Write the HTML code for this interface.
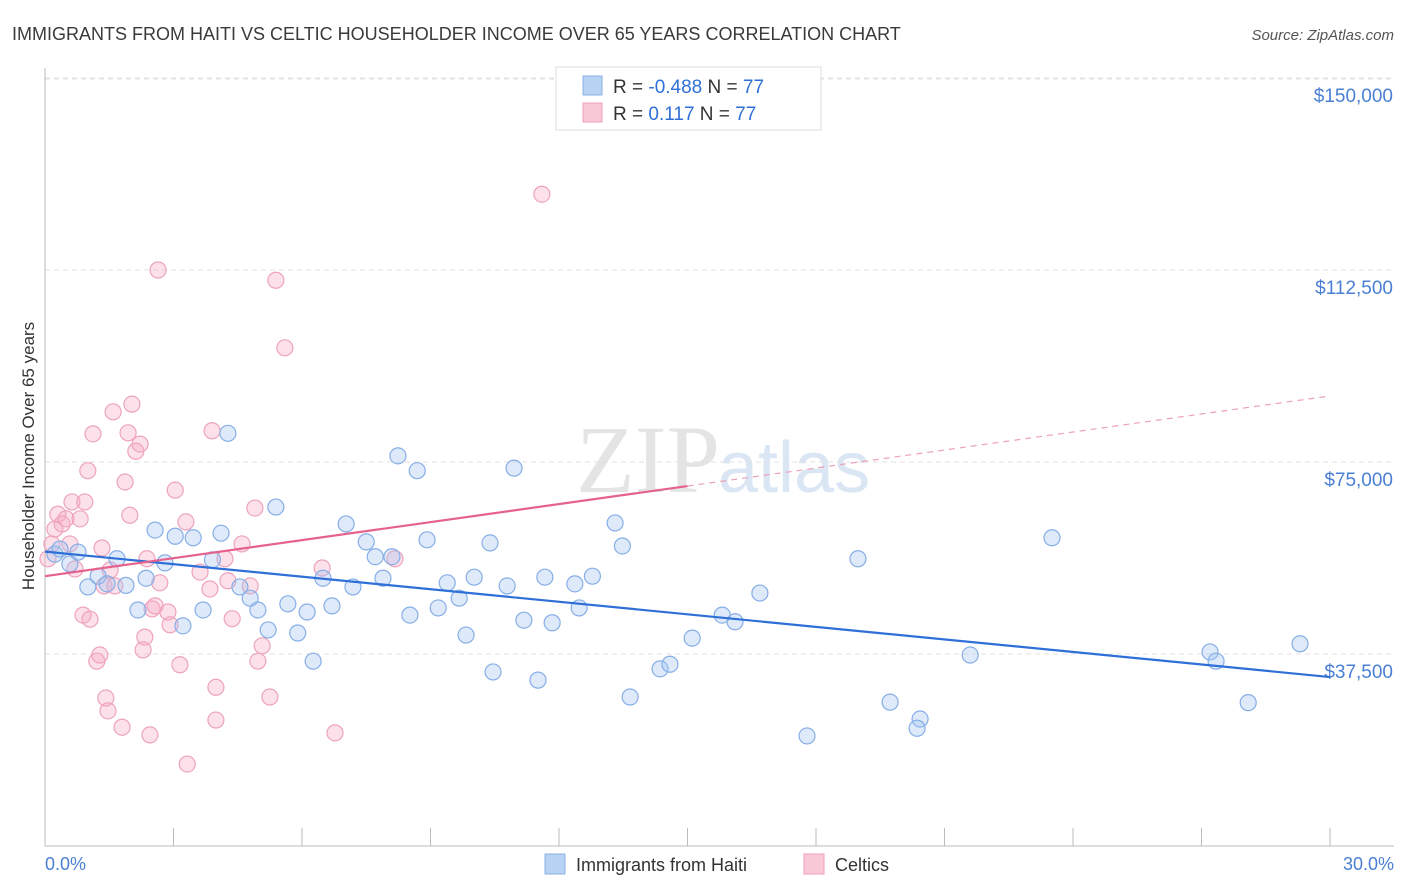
<!DOCTYPE html>
<html><head><meta charset="utf-8"><style>
body{margin:0;background:#fff;font-family:"Liberation Sans",sans-serif}
svg{display:block}
</style></head><body>
<svg width="1406" height="892" id="chart">
<text x="12" y="40" font-size="18" fill="#3a3a3a">IMMIGRANTS FROM HAITI VS CELTIC HOUSEHOLDER INCOME OVER 65 YEARS CORRELATION CHART</text>
<text x="1394" y="40" font-size="15" fill="#555" font-style="italic" text-anchor="end">Source: ZipAtlas.com</text>
<text x="720" y="492" font-size="96" fill="#e4e4e4" text-anchor="end" font-family="Liberation Serif,serif">ZIP</text>
<text x="718" y="492" font-size="72" fill="#dbe6f5">atlas</text>
<g id="grid"></g>
<g id="axes"></g>
<g id="marks"></g>
<text transform="translate(34,456) rotate(-90)" font-size="17" fill="#333" text-anchor="middle">Householder Income Over 65 years</text>
<text x="45" y="870" font-size="18" fill="#4a7fd4">0.0%</text>
<text x="1394" y="870" font-size="18" fill="#4a7fd4" text-anchor="end">30.0%</text>
<g>
<rect x="556" y="67" width="265" height="63" fill="#fff" stroke="#ddd"/>
<rect x="583" y="76" width="19" height="19" fill="#b9d3f5" stroke="#8ab0e6"/>
<rect x="583" y="103" width="19" height="19" fill="#f9c8d6" stroke="#efa0b8"/>
<text x="613" y="93" font-size="19" fill="#333">R = <tspan fill="#2f6fd6">-0.488</tspan>   N = <tspan fill="#2f6fd6">77</tspan></text>
<text x="613" y="120" font-size="19" fill="#333">R =    <tspan fill="#2f6fd6">0.117</tspan>   N = <tspan fill="#2f6fd6">77</tspan></text>
</g>
<g>
<rect x="545" y="854" width="20" height="20" fill="#b9d3f5" stroke="#8ab0e6"/>
<text x="576" y="871" font-size="18" fill="#333">Immigrants from Haiti</text>
<rect x="804" y="854" width="20" height="20" fill="#f9c8d6" stroke="#efa0b8"/>
<text x="835" y="871" font-size="18" fill="#333">Celtics</text>
</g>
</svg>
<script>
const yTicks=[37500,75000,112500,150000];
const yTickLabels=["$37,500","$75,000","$112,500","$150,000"];
const xTicks=[0,3,6,9,12,15,18,21,24,27,30];
const haitiX=[0.23,0.35,0.77,0.58,1.00,1.24,1.45,1.68,1.89,2.17,2.36,2.57,2.80,3.04,3.22,3.46,3.69,3.91,4.11,4.27,4.55,4.79,4.97,5.21,5.39,5.67,5.90,6.12,6.26,6.49,6.70,7.03,7.19,7.50,7.71,7.89,8.10,8.24,8.52,8.69,8.92,9.18,9.39,9.67,9.83,10.02,10.39,10.46,10.79,10.95,11.18,11.51,11.67,11.84,12.37,12.47,12.78,13.31,13.48,13.66,14.36,14.59,15.11,15.81,16.11,16.69,17.79,18.98,19.73,20.43,20.36,21.60,23.51,27.20,27.34,28.09,29.30];
const haitiY=[57.0,58.0,57.4,55.1,50.6,52.7,51.2,56.1,50.9,46.1,52.3,61.7,55.3,60.5,43.0,60.2,46.1,55.9,61.1,80.6,50.6,48.4,46.1,42.2,66.2,47.3,41.6,45.7,36.1,52.3,46.9,62.9,50.6,59.4,56.5,52.3,56.5,76.2,45.1,73.3,59.8,46.5,51.4,48.4,41.2,52.5,59.2,34.0,50.8,73.8,44.1,32.4,52.5,43.6,51.2,46.5,52.7,63.1,58.6,29.1,34.6,35.5,40.6,45.1,43.8,49.4,21.5,56.1,28.1,24.8,23.0,37.3,60.2,37.9,36.1,28.0,39.5];
const celticX=[0.07,0.16,0.23,0.30,0.40,0.49,0.58,0.63,0.70,0.82,0.89,0.93,1.00,1.05,1.12,1.21,1.28,1.33,1.38,1.42,1.47,1.52,1.59,1.63,1.80,1.87,1.94,1.98,2.03,2.12,2.22,2.29,2.33,2.38,2.45,2.50,2.57,2.64,2.68,2.87,2.92,3.04,3.15,3.29,3.32,3.62,3.85,3.90,3.99,3.99,4.20,4.27,4.37,4.60,4.79,4.90,4.97,5.07,5.25,5.39,5.60,6.47,6.77,8.17,11.60];
const celticY=[56.1,59.0,61.9,64.8,62.9,63.9,59.0,67.2,54.1,63.9,45.1,67.2,73.3,44.3,80.5,36.1,37.3,58.2,50.8,28.9,26.4,53.9,84.8,50.8,23.2,71.1,80.7,64.6,86.3,77.1,78.5,38.3,40.8,56.1,21.7,46.3,46.9,112.5,51.4,45.7,43.2,69.5,35.4,63.3,16.0,53.5,50.2,81.1,31.0,24.6,56.1,51.8,44.4,59.0,50.8,66.0,36.1,39.1,29.1,110.5,97.3,54.3,22.1,56.1,127.3];
const haitiTrend=[[0,57.5],[30,33.0]];
const celticTrend=[[0,52.7],[15,70.3],[30,87.9]];
const X=v=>45+v/30*1285;
const Y=v=>846-v/37.5*192;
const ns="http://www.w3.org/2000/svg";
function mk(tag,attrs,parent){const e=document.createElementNS(ns,tag);for(const k in attrs)e.setAttribute(k,attrs[k]);document.getElementById(parent).appendChild(e);return e;}
yTicks.forEach((t,i)=>{
 const g=mk('line',{x1:45,x2:1394,y1:Y(t/1000),y2:Y(t/1000),stroke:'#e2e2e2','stroke-dasharray':'5,4'},'grid');
 
 
 const l=mk('text',{x:1393,y:Y(t/1000)+24,'font-size':19,fill:'#4a7fd4','text-anchor':'end'},'axes');
 l.textContent=yTickLabels[i];
 
 
});
const topG=mk('line',{x1:45,x2:1394,y1:79,y2:79,stroke:'#e2e2e2','stroke-dasharray':'5,4'},'grid');


const ya=mk('line',{x1:45,x2:45,y1:68,y2:846,stroke:'#bbb'},'axes');


const xa=mk('line',{x1:45,x2:1394,y1:846,y2:846,stroke:'#bbb'},'axes');


xTicks.forEach(t=>{
 const e=mk('line',{x1:X(t),x2:X(t),y1:828,y2:846,stroke:'#bbb'},'axes');
 
 
});
celticX.forEach((x,i)=>{
 const c=mk('circle',{cx:X(x),cy:Y(celticY[i]),r:8,fill:'rgba(246,170,195,0.35)',stroke:'#eea3bb','stroke-width':1.2},'marks');
 
 
});
haitiX.forEach((x,i)=>{
 const c=mk('circle',{cx:X(x),cy:Y(haitiY[i]),r:8,fill:'rgba(160,195,240,0.35)',stroke:'#86aee6','stroke-width':1.2},'marks');
 
 
});
const ht=mk('line',{x1:X(haitiTrend[0][0]),y1:Y(haitiTrend[0][1]),x2:X(haitiTrend[1][0]),y2:Y(haitiTrend[1][1]),stroke:'#2e6fd8','stroke-width':2.2},'marks');


const ct=mk('line',{x1:X(celticTrend[0][0]),y1:Y(celticTrend[0][1]),x2:X(celticTrend[1][0]),y2:Y(celticTrend[1][1]),stroke:'#e5628d','stroke-width':2.2},'marks');


const cd=mk('line',{x1:X(celticTrend[1][0]),y1:Y(celticTrend[1][1]),x2:X(celticTrend[2][0]),y2:Y(celticTrend[2][1]),stroke:'#eca0b8','stroke-width':1.2,'stroke-dasharray':'6,5'},'marks');


</script>
</body></html>
